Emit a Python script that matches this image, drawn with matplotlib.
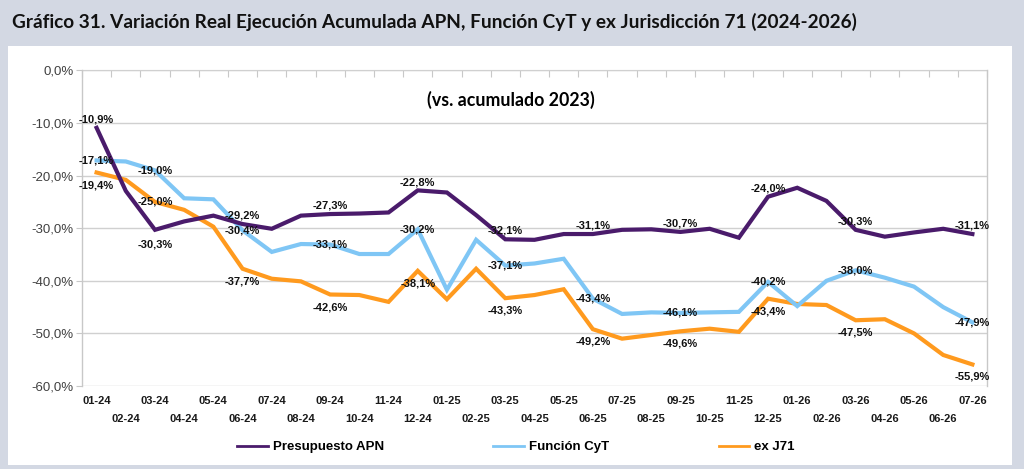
import matplotlib
matplotlib.use("Agg")
import matplotlib.pyplot as plt
from matplotlib.lines import Line2D

months = ["01-24","02-24","03-24","04-24","05-24","06-24","07-24","08-24","09-24","10-24",
          "11-24","12-24","01-25","02-25","03-25","04-25","05-25","06-25","07-25","08-25",
          "09-25","10-25","11-25","12-25","01-26","02-26","03-26","04-26","05-26","06-26","07-26"]

apn = [-10.9, -22.9, -30.3, -28.7, -27.6, -29.2, -30.1, -27.6, -27.3, -27.2,
       -27.0, -22.8, -23.2, -27.5, -32.1, -32.2, -31.1, -31.1, -30.3, -30.2,
       -30.7, -30.1, -31.8, -24.0, -22.3, -24.8, -30.3, -31.6, -30.8, -30.1, -31.1]

cyt = [-17.1, -17.3, -19.0, -24.3, -24.5, -30.4, -34.5, -33.0, -33.1, -34.9,
       -34.9, -30.2, -41.7, -32.2, -37.1, -36.7, -35.8, -43.4, -46.3, -46.0,
       -46.1, -46.0, -45.9, -40.2, -44.8, -40.0, -38.0, -39.4, -41.1, -45.0, -47.9]

j71 = [-19.4, -20.8, -25.0, -26.5, -29.7, -37.7, -39.6, -40.1, -42.6, -42.7,
       -44.0, -38.1, -43.5, -37.7, -43.3, -42.7, -41.6, -49.2, -51.0, -50.3,
       -49.6, -49.1, -49.7, -43.4, -44.4, -44.6, -47.5, -47.3, -50.0, -54.1, -55.9]

series_names = ["Presupuesto APN", "Función CyT", "ex J71"]
label_idx = [0, 2, 5, 8, 11, 14, 17, 20, 23, 26, 30]

yticks = [0, -10, -20, -30, -40, -50, -60]

title = "Gráfico 31. Variación Real Ejecución Acumulada APN, Función CyT y ex Jurisdicción 71 (2024-2026)"
subtitle = "(vs. acumulado 2023)"

colors = ["#4A1B6B", "#7FC6F5", "#FF9A1E"]
W, H = 1024, 469
fig = plt.figure(figsize=(W/100, H/100), dpi=100)
fig.patch.set_facecolor("#D3D8E3")

# white panel
panel = plt.Rectangle((8/W, 1-465/H), (1012-8)/W, (465-46)/H, transform=fig.transFigure,
                      facecolor="white", edgecolor="none", zorder=-5)
fig.patches.append(panel)

fig.text(12/W, 1-22/H, title, fontsize=13.7, fontweight="bold", family="Lato",
         va="center", ha="left", color="#111111")

ax = fig.add_axes([82/W, 1-386/H, (987-82)/W, (386-70.5)/H])
ax.set_facecolor("white")
x = list(range(len(months)))
ax.set_xlim(-0.5, len(months)-0.5)
ax.set_ylim(-60, 0)

for v in yticks:
    ax.axhline(v, color="#D0D0D0", lw=1, zorder=1)

for s in ["top", "bottom"]:
    ax.spines[s].set_visible(False)
for s in ["left", "right"]:
    ax.spines[s].set_color("#C8C8C8")
    ax.spines[s].set_linewidth(1)

ax.set_yticks(yticks)
ax.set_yticklabels([f"{v:.1f}%".replace(".", ",") for v in yticks])
ax.tick_params(axis="y", length=4, color="#C8C8C8", labelsize=9.5, labelcolor="#404040",
               pad=2, direction="out")
for t in ax.get_yticklabels():
    t.set_family("Liberation Sans")

ax.set_xticks(x[0::2])
ax.set_xticklabels(months[0::2])
ax.set_xticks(x[1::2], minor=True)
ax.set_xticklabels(months[1::2], minor=True)
ax.tick_params(axis="x", which="major", length=0, pad=7.5, labelsize=8)
ax.tick_params(axis="x", which="minor", length=0, pad=20.5, labelsize=8)
for t in ax.get_xticklabels() + ax.get_xticklabels(minor=True):
    t.set_fontweight("bold")
    t.set_family("Liberation Sans")
    t.set_color("#1a1a1a")

# top axis ticks at category boundaries
sec = ax.secondary_xaxis("top")
sec.set_xticks([i - 0.5 for i in range(len(months)+1)])
sec.set_xticklabels([])
sec.tick_params(direction="in", length=5, color="#C8C8C8")
sec.spines["top"].set_color("#C8C8C8")

data = [apn, cyt, j71]
offsets = [
    {i: (0, 8) for i in label_idx} | {2: (0, -14)},
    {i: (0, 0) for i in label_idx},
    {i: (0, -12) for i in label_idx} | {2: (0, 0)},
]
for k, (vals, c) in enumerate(zip(data, colors)):
    ax.plot(x, vals, color=c, lw=3.0, zorder=3 + (2 - k), solid_joinstyle="miter")
for k, vals in enumerate(data):
    for i in label_idx:
        dx, dy = offsets[k][i]
        ax.annotate(f"{vals[i]:.1f}%".replace(".", ","), (x[i], vals[i]),
                    xytext=(dx, dy * 0.75), textcoords="offset points",
                    ha="center", va="center", fontsize=8, fontweight="bold",
                    family="Liberation Sans", color="#111111", zorder=10)

ax.text(14.2, -5.6, subtitle, fontsize=12.8, fontweight="bold", family="Lato",
        ha="center", va="center")

handles = [Line2D([], [], color=c, lw=2) for c in colors]
fig.legend(handles, series_names, loc="center", bbox_to_anchor=(516/W, 1-447/H),
           ncol=3, frameon=False, handlelength=2.3, handletextpad=0.4, columnspacing=8.3,
           prop={"family": "Liberation Sans", "weight": "bold", "size": 9.5})

fig.savefig("out.png", dpi=100, facecolor=fig.get_facecolor())
